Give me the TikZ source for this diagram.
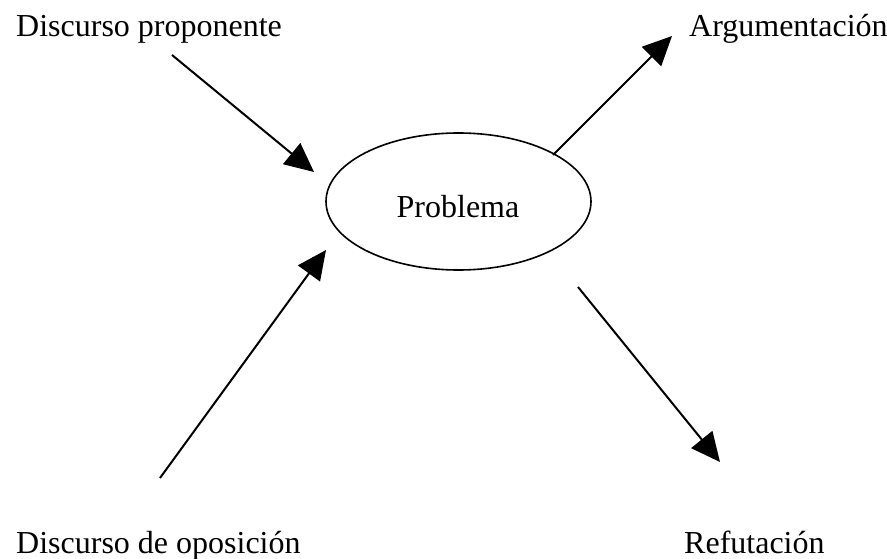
\documentclass[tikz,border=0pt]{standalone}
\usepackage{fontspec}
\setmainfont{Liberation Serif}
\usetikzlibrary{arrows.meta,shapes.geometric}
\begin{document}
\begin{tikzpicture}[x=1pt,y=-1pt,
  lbl/.style={inner sep=0pt,anchor=base west,font=\fontsize{32}{38}\selectfont},
  arr/.style={line width=2pt,-{Triangle[length=29pt,width=27pt]}}]
\useasboundingbox (0,0) rectangle (887,559);
\node[draw,line width=1.6pt,ellipse,minimum width=265pt,minimum height=137pt,inner sep=0pt] (p) at (458.5,201.5) {};
\node[inner sep=0pt,anchor=base,font=\fontsize{32}{38}\selectfont] (pt) at (458,218) {Problema};
\node[lbl] (dp) at (16,37) {Discurso proponente};
\node[lbl] (ar) at (689,37) {Argumentación};
\node[lbl] (do) at (16,553) {Discurso de oposición};
\node[lbl] (re) at (684,553) {Refutación};
\coordinate (s1) at (172,55);
\coordinate (t1) at (314,172);
\coordinate (s2) at (160,478);
\coordinate (t2) at (326,250);
\coordinate (s3) at (553,155);
\coordinate (t3) at (672,36);
\coordinate (s4) at (578,287);
\coordinate (t4) at (720,462);
\draw[arr] (s1) -- (t1);
\draw[arr] (s2) -- (t2);
\draw[arr] (s3) -- (t3);
\draw[arr] (s4) -- (t4);
\end{tikzpicture}
\end{document}
